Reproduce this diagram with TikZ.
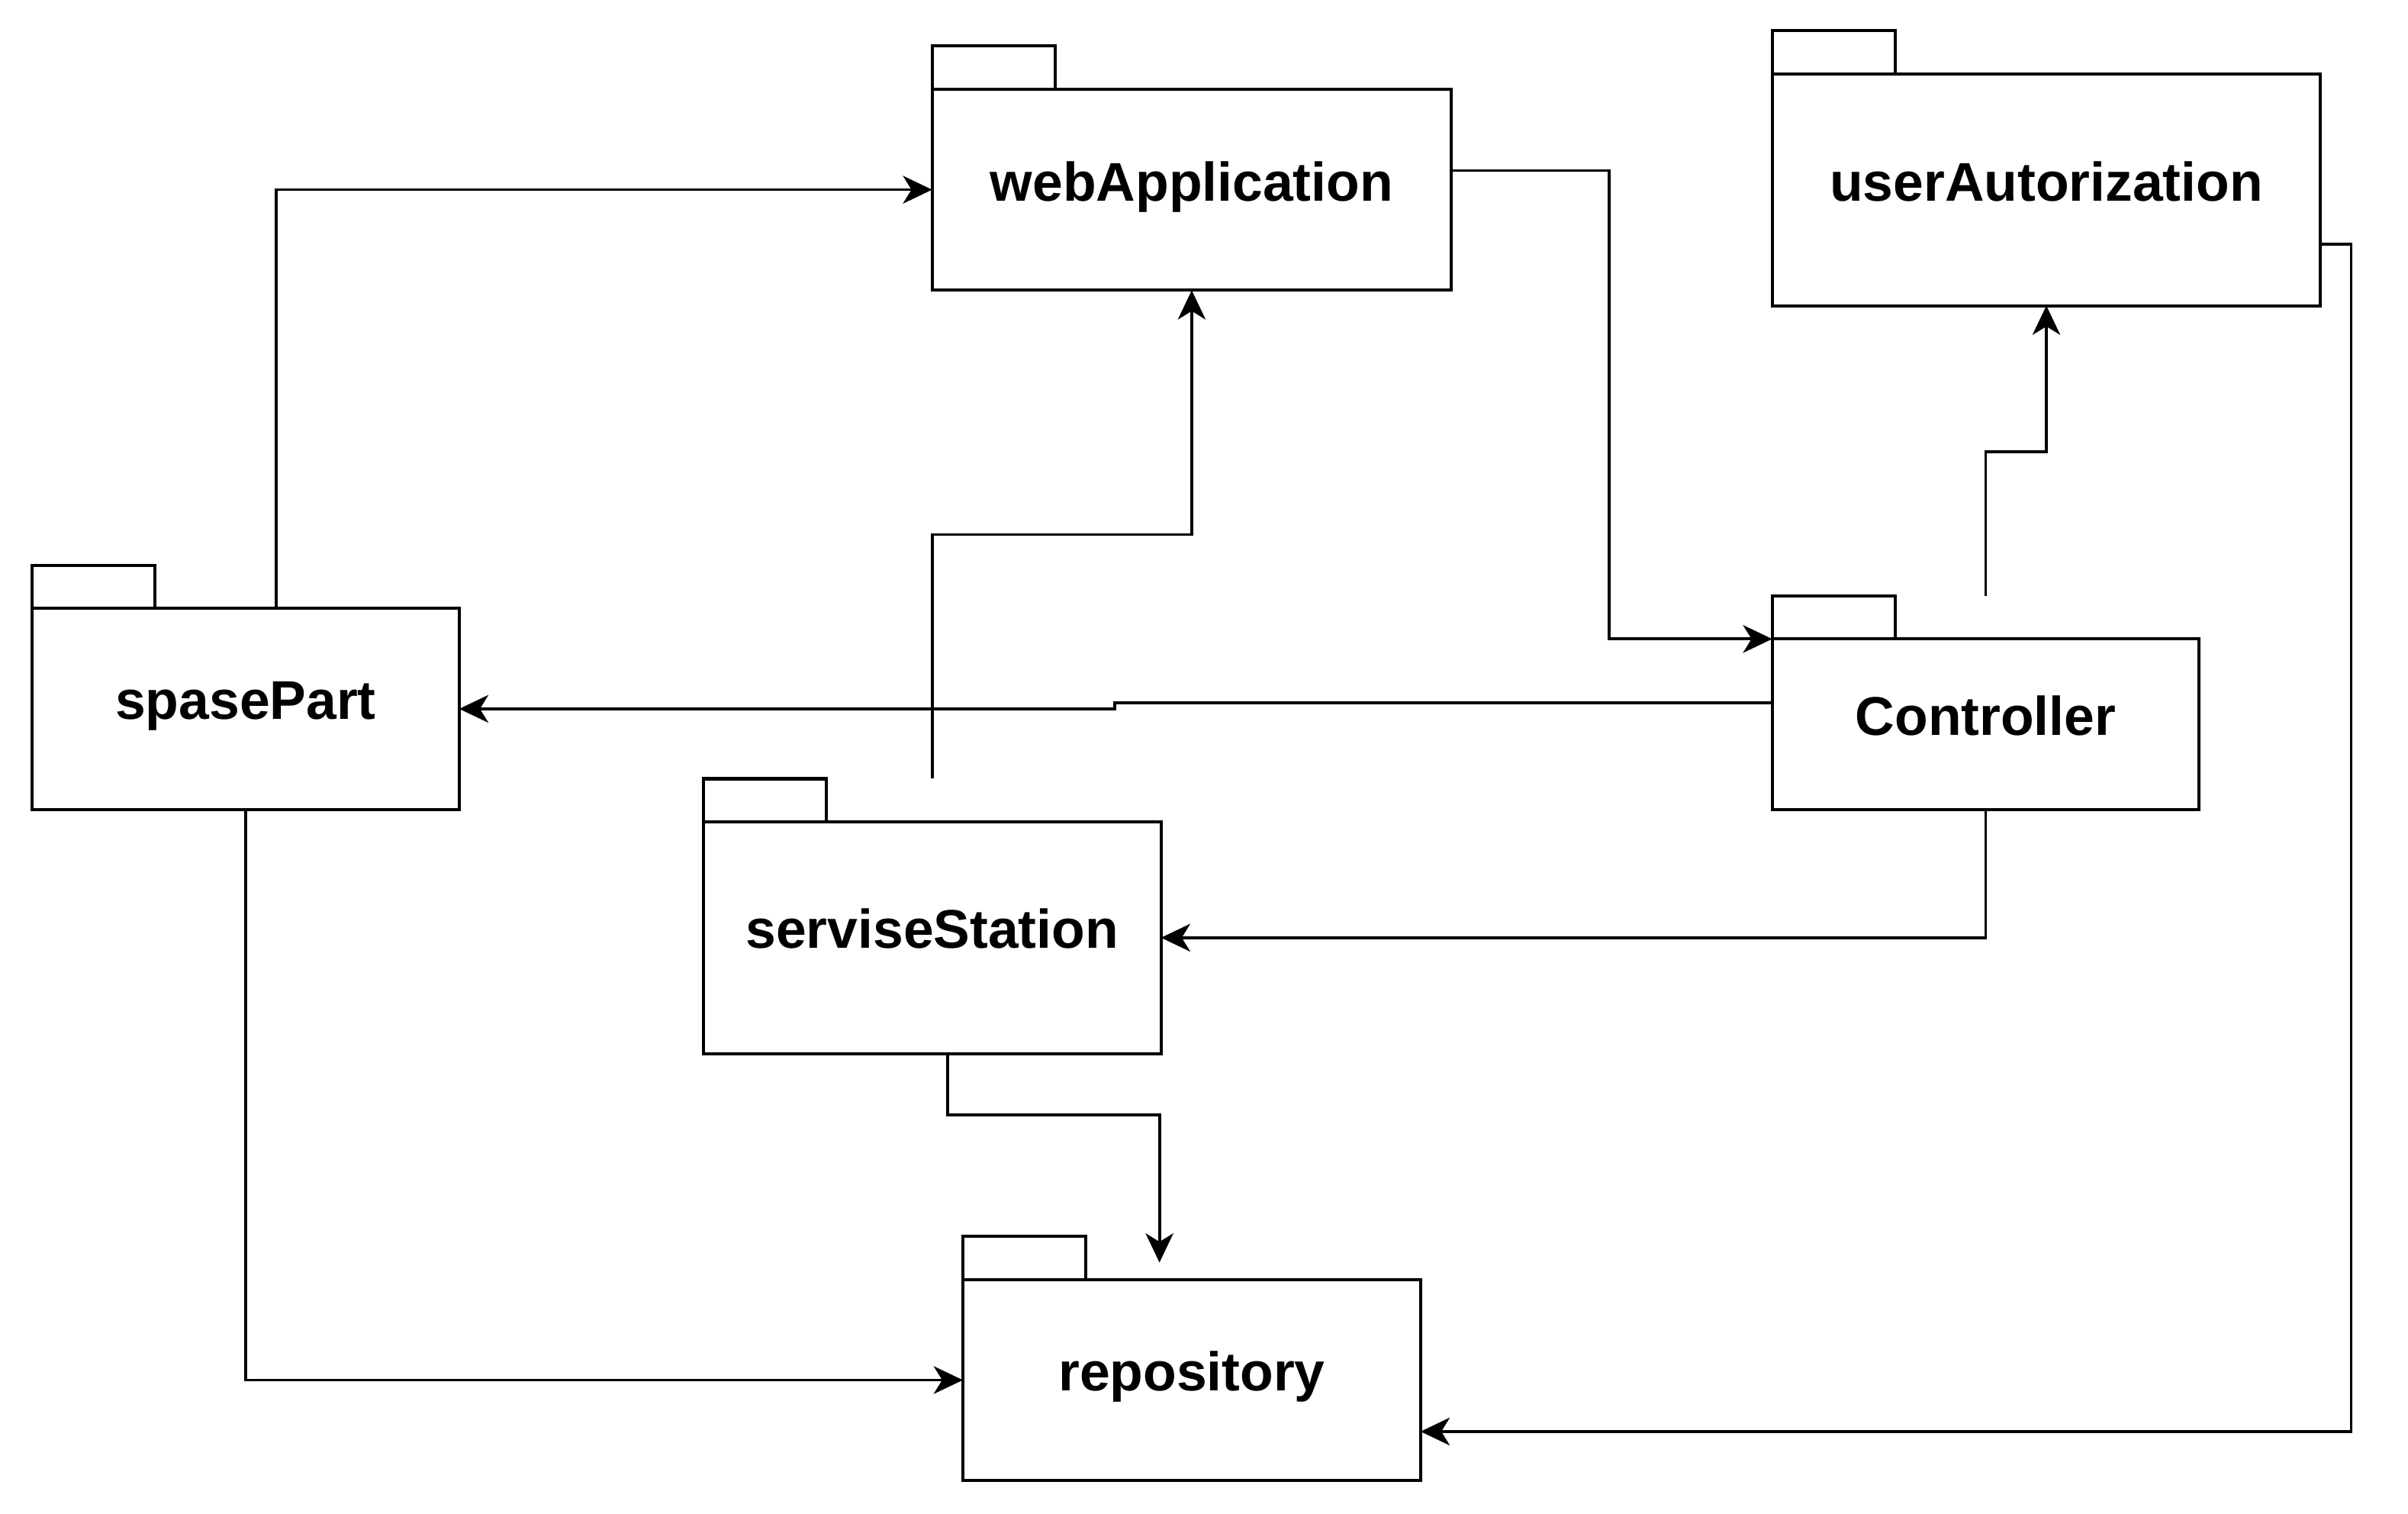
\documentclass[tikz,border=0pt]{standalone}
\usepackage{fontspec}
\setmainfont{Liberation Sans}
\usetikzlibrary{arrows.meta,calc}
\begin{document}
\begin{tikzpicture}[x=1pt,y=-1pt,
  pkgbody/.style={draw=black,line width=2pt,fill=white,inner sep=0pt,outer sep=0pt},
  pkgtab/.style={draw=black,line width=2pt,fill=white,inner sep=0pt,outer sep=0pt,minimum width=80pt,minimum height=28pt,anchor=south west},
  pkglabel/.style={anchor=base,inner sep=0pt,font=\fontsize{35.5}{42}\selectfont\bfseries},
  conn/.style={line width=1.9pt,draw=black,-{Stealth[length=19pt,width=18pt,inset=5.5pt]}},
  plain/.style={line width=1.9pt,draw=black}]
\useasboundingbox (0,0) rectangle (1568,985.7);
\fill[white] (0,0) rectangle (1568,985.7);

% packages
\node[pkgbody,minimum width=338pt,minimum height=131pt] (web) at (776,123.5) {};
\node[pkgtab] (webTab) at (web.north west) {};
\node[pkglabel] (webL) at ($(web.center)+(0,7.5)$) {webApplication};

\node[pkgbody,minimum width=357pt,minimum height=151pt] (userA) at (1332.5,123.5) {};
\node[pkgtab] (userATab) at (userA.north west) {};
\node[pkglabel] (userAL) at ($(userA.center)+(0,7.5)$) {userAutorization};

\node[pkgbody,minimum width=278pt,minimum height=131pt] (spase) at (160,461.5) {};
\node[pkgtab] (spaseTab) at (spase.north west) {};
\node[pkglabel] (spaseL) at ($(spase.center)+(0,7)$) {spasePart};

\node[pkgbody,minimum width=278pt,minimum height=111pt] (ctrl) at (1293,471.5) {};
\node[pkgtab] (ctrlTab) at (ctrl.north west) {};
\node[pkglabel] (ctrlL) at ($(ctrl.center)+(0,7)$) {Controller};

\node[pkgbody,minimum width=298pt,minimum height=151pt] (serv) at (607,610.5) {};
\node[pkgtab] (servTab) at (serv.north west) {};
\node[pkglabel] (servL) at ($(serv.center)+(0,7)$) {serviseStation};

\node[pkgbody,minimum width=298pt,minimum height=131pt] (repo) at (776,898.5) {};
\node[pkgtab] (repoTab) at (repo.north west) {};
\node[pkglabel] (repoL) at ($(repo.center)+(0,7)$) {repository};

\coordinate (repoIn) at (755,822);

% connectors
\draw[conn] ([xshift=20pt]spase.north) |- (web.west);
\draw[conn] ([yshift=12.5pt]web.east) -- (1048,111) |- (ctrl.north west);
\draw[conn] ([yshift=28pt]serv.north) |- (776,348) -- (web.south);
\draw[conn] ([yshift=28pt]ctrl.north) |- (1332.5,294) -- (userA.south);
\draw[conn] ([yshift=14pt]ctrl.west) -- (726,457.5) -- (726,461.5) -- (spase.east);
\draw[conn] (ctrl.south) |- (serv.east);
\draw[conn] ([xshift=10pt]serv.south) |- (755,726) -- (repoIn);
\draw[conn] (spase.south) |- (repo.west);
\draw[conn] ([yshift=-35.5pt]userA.east) -- (1531,159) |- ([yshift=-33.5pt]repo.east);
\end{tikzpicture}
\end{document}
